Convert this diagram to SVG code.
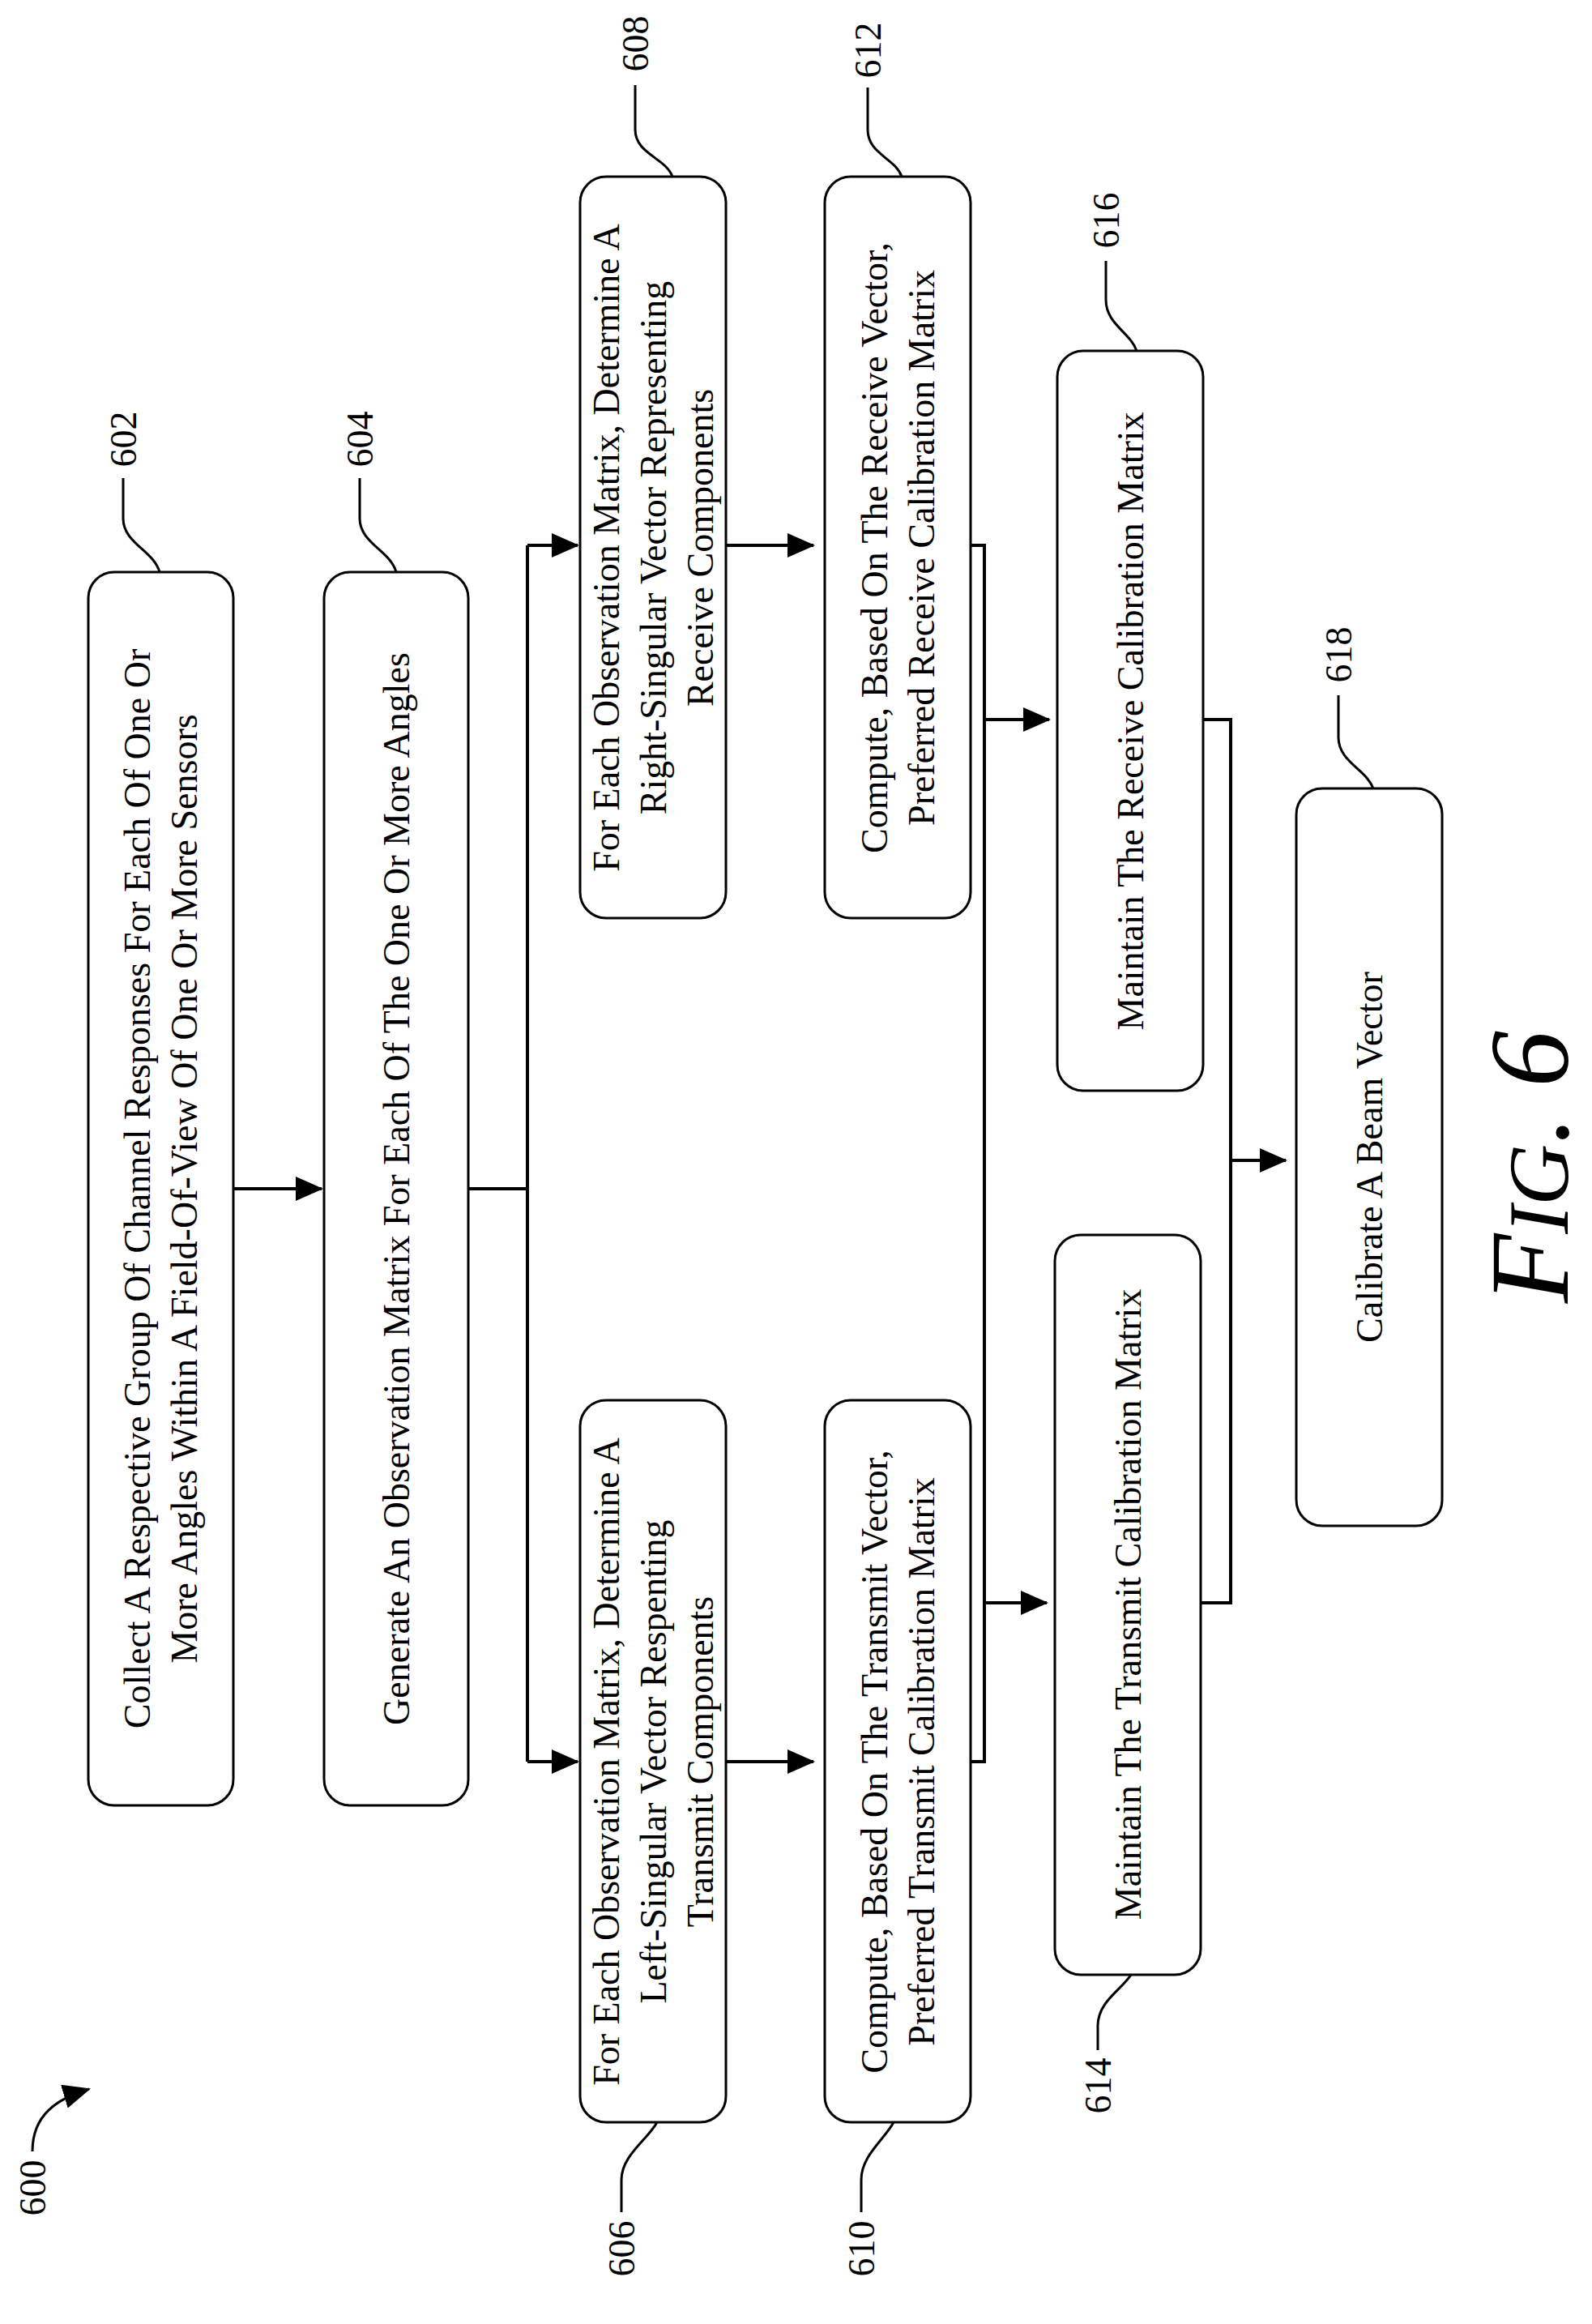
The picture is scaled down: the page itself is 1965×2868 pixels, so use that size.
<svg xmlns="http://www.w3.org/2000/svg" width="1965" height="2868" viewBox="0 0 1965 2868">
<style>
.b{fill:#fff;stroke:#000;stroke-width:3}
.t{font-family:"Liberation Serif",serif;font-size:46px;text-anchor:middle;dominant-baseline:central}
.c{fill:none;stroke:#000;stroke-width:4}
.l{fill:none;stroke:#000;stroke-width:3}
</style>
<defs>
<marker id="ah" markerWidth="34" markerHeight="30" refX="32" refY="15" orient="auto" markerUnits="userSpaceOnUse"><path d="M0,0 L34,15 L0,30 z"/></marker></defs>
<rect width="1965" height="2868" fill="#fff"/>
<g id="connectors">
<path class="c" d="M289,1467 H397" marker-end="url(#ah)"/>
<path class="c" d="M575,1467 H651 M651,673 V2174"/>
<path class="c" d="M651,673 H713" marker-end="url(#ah)"/>
<path class="c" d="M651,2174 H713" marker-end="url(#ah)"/>
<path class="c" d="M893,673 H1004" marker-end="url(#ah)"/>
<path class="c" d="M893,2174 H1004" marker-end="url(#ah)"/>
<path class="c" d="M1184,673 H1215 V2174 H1184"/>
<path class="c" d="M1215,888 H1295" marker-end="url(#ah)"/>
<path class="c" d="M1215,1978 H1292" marker-end="url(#ah)"/>
<path class="c" d="M1473,888 H1519 V1978 H1472"/>
<path class="c" d="M1519,1432 H1587" marker-end="url(#ah)"/>
</g>
<g id="n600">
<text class="t" transform="translate(40,2700) rotate(-90)">600</text>
<path class="l" d="M40,2655 C40,2610 70,2590 110,2578" marker-end="url(#ah)"/>
</g>
<g id="n602">
<rect class="b" x="109" y="706" width="179" height="1522" rx="32"/>
<text class="t" transform="translate(198,1467) rotate(-90)"><tspan x="0" y="-29">Collect A Respective Group Of Channel Responses For Each Of One Or</tspan><tspan x="0" y="29">More Angles Within A Field-Of-View Of One Or More Sensors</tspan></text>
<text class="t" transform="translate(152,542) rotate(-90)">602</text>
<path class="l" d="M152,590 V640 C152,670 190,680 197,706"/>
</g>
<g id="n604">
<rect class="b" x="400" y="706" width="178" height="1522" rx="32"/>
<text class="t" transform="translate(489,1467) rotate(-90)">Generate An Observation Matrix For Each Of The One Or More Angles</text>
<text class="t" transform="translate(444,542) rotate(-90)">604</text>
<path class="l" d="M444,590 V640 C444,670 482,680 489,706"/>
</g>
<g id="n608">
<rect class="b" x="716" y="218" width="180" height="915" rx="32"/>
<text class="t" transform="translate(806,676) rotate(-90)"><tspan x="0" y="-58">For Each Observation Matrix, Determine A</tspan><tspan x="0" y="0">Right-Singular Vector Representing</tspan><tspan x="0" y="58">Receive Components</tspan></text>
<text class="t" transform="translate(784,54) rotate(-90)">608</text>
<path class="l" d="M784,105 V160 C784,190 822,195 830,218"/>
</g>
<g id="n612">
<rect class="b" x="1018" y="218" width="180" height="915" rx="32"/>
<text class="t" transform="translate(1108,676) rotate(-90)"><tspan x="0" y="-29">Compute, Based On The Receive Vector,</tspan><tspan x="0" y="29">Preferred Receive Calibration Matrix</tspan></text>
<text class="t" transform="translate(1071,62) rotate(-90)">612</text>
<path class="l" d="M1071,108 V160 C1071,190 1105,195 1113,218"/>
</g>
<g id="n616">
<rect class="b" x="1305" y="433" width="180" height="913" rx="32"/>
<text class="t" transform="translate(1395,890) rotate(-90)">Maintain The Receive Calibration Matrix</text>
<text class="t" transform="translate(1365,272) rotate(-90)">616</text>
<path class="l" d="M1365,322 V370 C1365,400 1395,410 1403,433"/>
</g>
<g id="n618">
<rect class="b" x="1600" y="973" width="180" height="910" rx="32"/>
<text class="t" transform="translate(1690,1428) rotate(-90)">Calibrate A Beam Vector</text>
<text class="t" transform="translate(1652,808) rotate(-90)">618</text>
<path class="l" d="M1652,858 V910 C1652,940 1687,950 1695,973"/>
</g>
<g id="n606">
<rect class="b" x="716" y="1728" width="180" height="891" rx="32"/>
<text class="t" transform="translate(806,2174) rotate(-90)"><tspan x="0" y="-58">For Each Observation Matrix, Determine A</tspan><tspan x="0" y="0">Left-Singular Vector Respenting</tspan><tspan x="0" y="58">Transmit Components</tspan></text>
<text class="t" transform="translate(767,2775) rotate(-90)">606</text>
<path class="l" d="M811,2619 C800,2640 767,2660 767,2690 V2730"/>
</g>
<g id="n610">
<rect class="b" x="1018" y="1728" width="180" height="891" rx="32"/>
<text class="t" transform="translate(1108,2174) rotate(-90)"><tspan x="0" y="-29">Compute, Based On The Transmit Vector,</tspan><tspan x="0" y="29">Preferred Transmit Calibration Matrix</tspan></text>
<text class="t" transform="translate(1063,2775) rotate(-90)">610</text>
<path class="l" d="M1103,2619 C1092,2640 1063,2660 1063,2690 V2730"/>
</g>
<g id="n614">
<rect class="b" x="1302" y="1524" width="180" height="913" rx="32"/>
<text class="t" transform="translate(1392,1980) rotate(-90)">Maintain The Transmit Calibration Matrix</text>
<text class="t" transform="translate(1355,2574) rotate(-90)">614</text>
<path class="l" d="M1396,2437 C1385,2455 1355,2470 1355,2500 V2530"/>
</g>
<text transform="translate(1935,1440) rotate(-90)" font-family="Liberation Serif,serif" font-style="italic" text-anchor="middle" font-size="140">F<tspan font-size="105">IG</tspan>. 6</text>
</svg>
